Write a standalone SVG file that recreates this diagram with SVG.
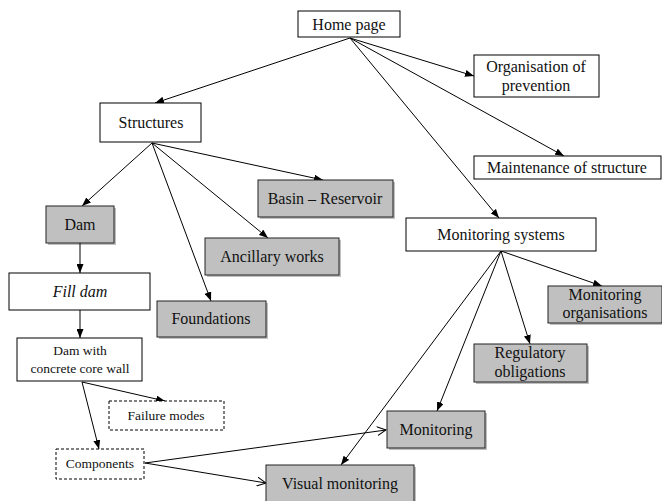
<svg xmlns="http://www.w3.org/2000/svg" width="662" height="501" viewBox="0 0 662 501">
<defs>
<marker id="ah" markerWidth="9" markerHeight="7" refX="9" refY="3.5" orient="auto" markerUnits="userSpaceOnUse"><path d="M0,0 L9,3.5 L0,7 Z" fill="#000"/></marker>
<marker id="oa" markerWidth="10" markerHeight="10" refX="9" refY="5" orient="auto" markerUnits="userSpaceOnUse"><path d="M0,0.5 L9,5 L0,9.5" fill="none" stroke="#000" stroke-width="1"/></marker>
</defs>
<rect width="662" height="501" fill="#fff"/>
<g id="connectors" stroke="#000" stroke-width="1" fill="none">
<line x1="350" y1="38" x2="155" y2="103" marker-end="url(#ah)"/>
<line x1="350" y1="38" x2="474" y2="76" marker-end="url(#ah)"/>
<line x1="350" y1="38" x2="564" y2="156" marker-end="url(#ah)"/>
<line x1="350" y1="38" x2="499" y2="218" marker-end="url(#ah)"/>
<line x1="152" y1="143" x2="82" y2="206" marker-end="url(#ah)"/>
<line x1="152" y1="143" x2="323" y2="180" marker-end="url(#ah)"/>
<line x1="152" y1="143" x2="268" y2="238" marker-end="url(#ah)"/>
<line x1="152" y1="143" x2="211" y2="301" marker-end="url(#ah)"/>
<line x1="80" y1="243" x2="80" y2="273" marker-end="url(#ah)"/>
<line x1="80" y1="310" x2="80" y2="338" marker-end="url(#ah)"/>
<line x1="82" y1="382" x2="165" y2="401" marker-end="url(#ah)"/>
<line x1="82" y1="382" x2="99" y2="449" marker-end="url(#ah)"/>
<line x1="145" y1="463" x2="386" y2="430" marker-end="url(#oa)"/>
<line x1="145" y1="463" x2="266" y2="483" marker-end="url(#oa)"/>
<line x1="501" y1="251" x2="602" y2="286" marker-end="url(#ah)"/>
<line x1="501" y1="251" x2="530" y2="344" marker-end="url(#ah)"/>
<line x1="501" y1="251" x2="437" y2="411" marker-end="url(#ah)"/>
<line x1="501" y1="251" x2="341" y2="465" marker-end="url(#ah)"/>
</g>
<g id="home"><rect x="298" y="11" width="102" height="26" fill="#fff" stroke="#000"/><text x="349" y="30" font-family="Liberation Serif" font-size="16" text-anchor="middle" fill="#111">Home page</text></g>
<g id="organisation"><rect x="474" y="55" width="125" height="42" fill="#fff" stroke="#000"/><text x="536" y="72" font-family="Liberation Serif" font-size="16" text-anchor="middle" fill="#111">Organisation of</text><text x="536" y="91" font-family="Liberation Serif" font-size="16" text-anchor="middle" fill="#111">prevention</text></g>
<g id="structures"><rect x="100" y="103" width="101" height="39" fill="#fff" stroke="#000"/><text x="151" y="128" font-family="Liberation Serif" font-size="16" text-anchor="middle" fill="#111">Structures</text></g>
<g id="maintenance"><rect x="474" y="156" width="187" height="23" fill="#fff" stroke="#000"/><text x="567" y="173" font-family="Liberation Serif" font-size="16" text-anchor="middle" fill="#111">Maintenance of structure</text></g>
<g id="basin"><rect x="260" y="182" width="135" height="37" fill="#000" opacity="0.25"/><rect x="258" y="180" width="135" height="37" fill="#c0c0c0" stroke="#222"/><text x="325" y="204" font-family="Liberation Serif" font-size="16" text-anchor="middle" fill="#111">Basin &#8211; Reservoir</text></g>
<g id="dam"><rect x="48" y="208" width="68" height="37" fill="#000" opacity="0.25"/><rect x="46" y="206" width="68" height="37" fill="#c0c0c0" stroke="#222"/><text x="80" y="230" font-family="Liberation Serif" font-size="16" text-anchor="middle" fill="#111">Dam</text></g>
<g id="monsys"><rect x="406" y="218" width="190" height="33" fill="#fff" stroke="#000"/><text x="501" y="240" font-family="Liberation Serif" font-size="16" text-anchor="middle" fill="#111">Monitoring systems</text></g>
<g id="ancillary"><rect x="207" y="240" width="134" height="37" fill="#000" opacity="0.25"/><rect x="205" y="238" width="134" height="37" fill="#c0c0c0" stroke="#222"/><text x="272" y="262" font-family="Liberation Serif" font-size="16" text-anchor="middle" fill="#111">Ancillary works</text></g>
<g id="filldam"><rect x="9" y="273" width="141" height="37" fill="#fff" stroke="#000"/><text x="80" y="297" font-family="Liberation Serif" font-size="16" font-style="italic" text-anchor="middle" fill="#111">Fill dam</text></g>
<g id="monorg"><rect x="550" y="288" width="114" height="37" fill="#000" opacity="0.25"/><rect x="548" y="286" width="114" height="37" fill="#c0c0c0" stroke="#222"/><text x="605" y="300" font-family="Liberation Serif" font-size="16" text-anchor="middle" fill="#111">Monitoring</text><text x="605" y="318" font-family="Liberation Serif" font-size="16" text-anchor="middle" fill="#111">organisations</text></g>
<g id="foundations"><rect x="159" y="303" width="109" height="36" fill="#000" opacity="0.25"/><rect x="157" y="301" width="109" height="36" fill="#c0c0c0" stroke="#222"/><text x="211" y="324" font-family="Liberation Serif" font-size="16" text-anchor="middle" fill="#111">Foundations</text></g>
<g id="damcore"><rect x="17" y="338" width="125" height="43" fill="#fff" stroke="#000"/><text x="80" y="355" font-family="Liberation Serif" font-size="13.5" text-anchor="middle" fill="#111">Dam with</text><text x="80" y="373" font-family="Liberation Serif" font-size="13.5" text-anchor="middle" fill="#111">concrete core wall</text></g>
<g id="regulatory"><rect x="476" y="346" width="113" height="38" fill="#000" opacity="0.25"/><rect x="474" y="344" width="113" height="38" fill="#c0c0c0" stroke="#222"/><text x="530" y="358" font-family="Liberation Serif" font-size="16" text-anchor="middle" fill="#111">Regulatory</text><text x="530" y="377" font-family="Liberation Serif" font-size="16" text-anchor="middle" fill="#111">obligations</text></g>
<g id="failure"><rect x="109" y="401" width="115" height="29" fill="#fff" stroke="#000" stroke-dasharray="3,2"/><text x="166" y="420" font-family="Liberation Serif" font-size="13.5" text-anchor="middle" fill="#111">Failure modes</text></g>
<g id="monitoring"><rect x="389" y="413" width="98" height="37" fill="#000" opacity="0.25"/><rect x="387" y="411" width="98" height="37" fill="#c0c0c0" stroke="#222"/><text x="436" y="435" font-family="Liberation Serif" font-size="16" text-anchor="middle" fill="#111">Monitoring</text></g>
<g id="components"><rect x="56" y="449" width="88" height="30" fill="#fff" stroke="#000" stroke-dasharray="3,2"/><text x="100" y="468" font-family="Liberation Serif" font-size="13.5" text-anchor="middle" fill="#111">Components</text></g>
<g id="visual"><rect x="268" y="467" width="148" height="40" fill="#000" opacity="0.25"/><rect x="266" y="465" width="148" height="40" fill="#c0c0c0" stroke="#222"/><text x="340" y="489" font-family="Liberation Serif" font-size="16" text-anchor="middle" fill="#111">Visual monitoring</text></g>
</svg>
